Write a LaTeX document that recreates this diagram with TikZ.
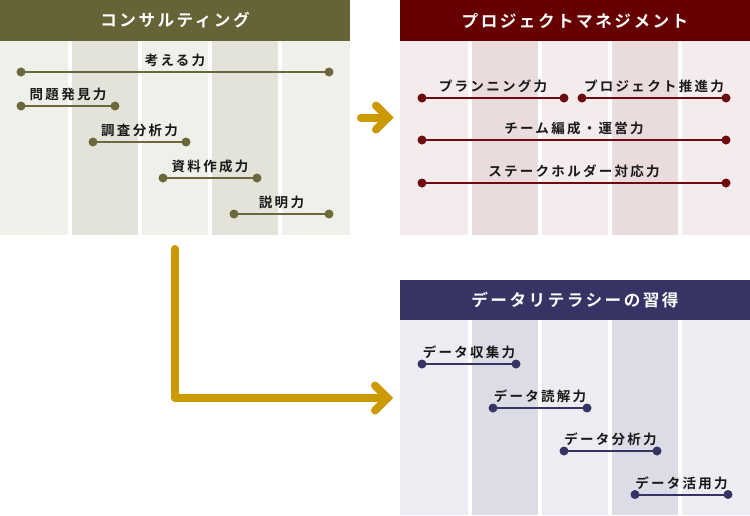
\documentclass[tikz,border=0pt]{standalone}
\usepackage{fontspec}
\newfontfamily\jp{Noto Sans CJK JP Bold}
\usetikzlibrary{calc}
\definecolor{olivehd}{RGB}{102,99,55}
\definecolor{olivel}{RGB}{240,240,235}
\definecolor{olived}{RGB}{227,227,218}
\definecolor{oliveln}{RGB}{107,104,60}
\definecolor{redhd}{RGB}{102,0,0}
\definecolor{redl}{RGB}{243,235,236}
\definecolor{redd}{RGB}{234,219,221}
\definecolor{redln}{RGB}{110,10,15}
\definecolor{navyhd}{RGB}{53,52,100}
\definecolor{navyl}{RGB}{236,236,242}
\definecolor{navyd}{RGB}{220,220,230}
\definecolor{navyln}{RGB}{53,52,100}
\definecolor{gold}{RGB}{204,153,0}
\definecolor{txt}{RGB}{25,25,25}
\newcommand\mypanel[5]{%
  \foreach \a/\b/\c in {0/68/#4,72/138/#5,142/208/#4,212/278/#5,282/350/#4}
    {\fill[\c] (#1+\a,#2) rectangle (#1+\b,#3);}
}
\newcommand\myskill[6]{%
  \coordinate (#1-a) at (#2,#4);
  \coordinate (#1-b) at (#3,#4);
  \draw[skl, draw=#5] (#1-a) -- (#1-b);
  \fill[#5] (#1-a) circle[radius=4.5pt] (#1-b) circle[radius=4.5pt];
  \node[lbl] (#1-t) at ($(#1-a)!0.5!(#1-b)+(0,-11.5)$) {#6};
}
\begin{document}
\begin{tikzpicture}[x=1pt,y=-1pt,
  hdrbox/.style={minimum width=350pt, minimum height=41pt, inner sep=0pt, outer sep=0pt,
    text=white, font=\jp\fontsize{16.6}{16.6}\selectfont\addfontfeature{LetterSpace=15}},
  lbl/.style={inner sep=0pt, text=txt, font=\jp\fontsize{13.5}{13.5}\selectfont\addfontfeature{LetterSpace=17}},
  skl/.style={line width=2pt},
  garrow/.style={draw=gold, line width=8pt, line cap=round, line join=round}]
\useasboundingbox (0,0) rectangle (750,515);
\fill[white] (0,0) rectangle (750,515);
% panels
\mypanel{0}{41}{235}{olivel}{olived}
\mypanel{400}{41}{235}{redl}{redd}
\mypanel{400}{320}{515}{navyl}{navyd}
\node[hdrbox, fill=olivehd] (h1) at (175,20.5) {コンサルティング};
\node[hdrbox, fill=redhd] (h2) at (575,20.5) {プロジェクトマネジメント};
\node[hdrbox, fill=navyhd, minimum height=40pt] (h3) at (575,300) {データリテラシーの習得};
% consulting skills
\myskill{c1}{21}{329}{72}{oliveln}{考える力}
\myskill{c2}{21}{115}{106}{oliveln}{問題発見力}
\myskill{c3}{93}{186}{142}{oliveln}{調査分析力}
\myskill{c4}{163}{257}{178}{oliveln}{資料作成力}
\myskill{c5}{234}{329}{214}{oliveln}{説明力}
% project management skills
\myskill{p1}{422}{564}{98}{redln}{プランニング力}
\myskill{p2}{582}{726}{98}{redln}{プロジェクト推進力}
\myskill{p3}{422}{726}{140}{redln}{チーム編成・運営力}
\myskill{p4}{422}{726}{183}{redln}{ステークホルダー対応力}
% data literacy skills
\myskill{d1}{422}{516}{364}{navyln}{データ収集力}
\myskill{d2}{493}{587}{408}{navyln}{データ読解力}
\myskill{d3}{564}{657}{451}{navyln}{データ分析力}
\myskill{d4}{635}{728}{494.5}{navyln}{データ活用力}
% arrows
\coordinate (a1s) at (361,117.5);
\coordinate (a1e) at (388,117.5);
\draw[garrow] (a1s) -- (a1e);
\draw[garrow, line join=miter] ($(a1e)+(-12,-12)$) -- (a1e) -- ($(a1e)+(-12,12)$);
\coordinate (a2s) at (175,249);
\coordinate (a2c) at (175,398);
\coordinate (a2e) at (387.5,398);
\draw[garrow] (a2s) -- (a2c) -- (a2e);
\draw[garrow, line join=miter] ($(a2e)+(-12.5,-12.5)$) -- (a2e) -- ($(a2e)+(-12.5,12.5)$);
\end{tikzpicture}
\end{document}
